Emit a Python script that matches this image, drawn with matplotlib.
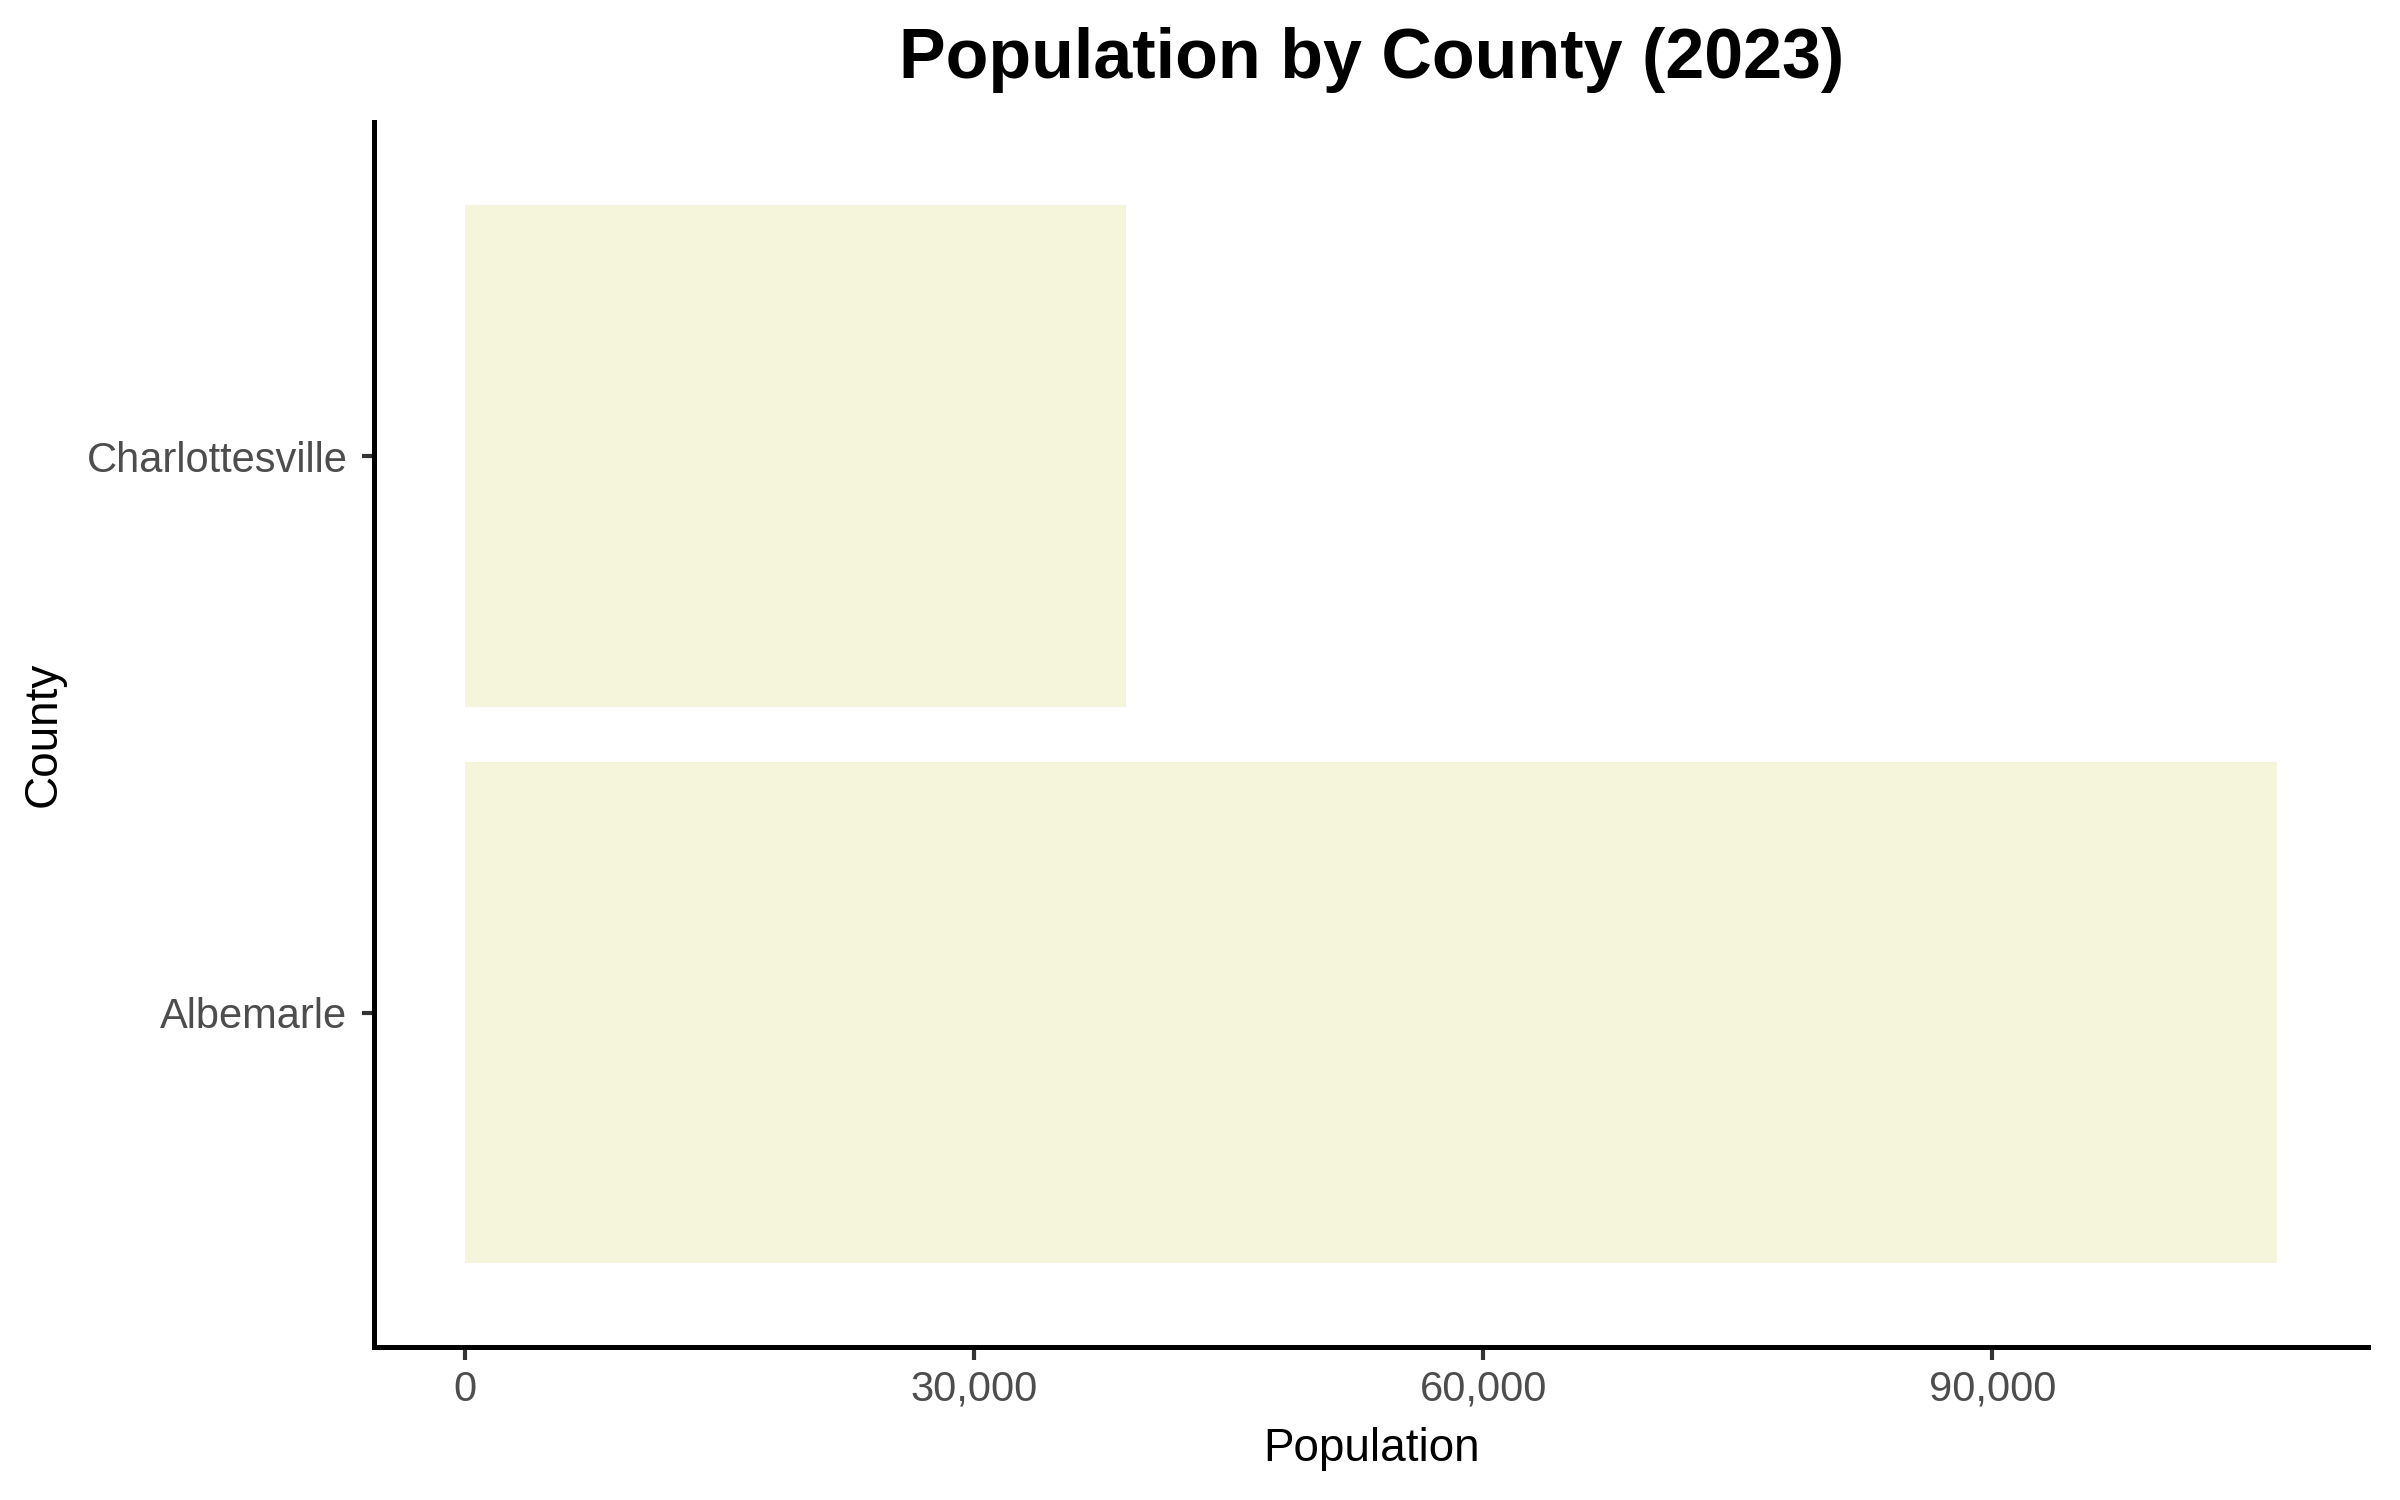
import matplotlib
matplotlib.use("Agg")
import matplotlib.pyplot as plt
from matplotlib.ticker import FuncFormatter

# data
counties = ["Albemarle", "Charlottesville"]
population = [106800, 38950]
x_ticks = [0, 30000, 60000, 90000]

plt.rcParams['font.family'] = ['Liberation Sans', 'DejaVu Sans']

fig = plt.figure(figsize=(8, 5), dpi=300)
ax = fig.add_axes([0.156, 0.102, 0.8307, 0.8167])

ypos = list(range(1, len(counties) + 1))
ax.barh(ypos, population, height=0.9, color="#F5F5DC", linewidth=0)

# ggplot style expansion
top = max(population)
ax.set_xlim(-0.05 * top, 1.05 * top)
ax.set_ylim(0.4, len(counties) + 0.6)

ax.set_yticks(ypos)
ax.set_yticklabels(counties)
ax.set_xticks(x_ticks)
ax.xaxis.set_major_formatter(FuncFormatter(lambda v, p: f"{int(v):,}"))

for s in ["top", "right"]:
    ax.spines[s].set_visible(False)
for s in ["left", "bottom"]:
    ax.spines[s].set_linewidth(1.2)
    ax.spines[s].set_color("black")

ax.tick_params(axis="both", length=3, width=1.0, color="#333333",
               labelcolor="#4D4D4D", labelsize=10)
ax.tick_params(axis="x", pad=2.5)
ax.tick_params(axis="y", pad=3.5)

ax.set_xlabel("Population", fontsize=11, labelpad=4)
ax.set_ylabel("County", fontsize=11, labelpad=5)
ax.set_title("Population by County (2023)", fontsize=16.8, fontweight="bold", pad=10.5)

fig.savefig("out.png", dpi=300)
